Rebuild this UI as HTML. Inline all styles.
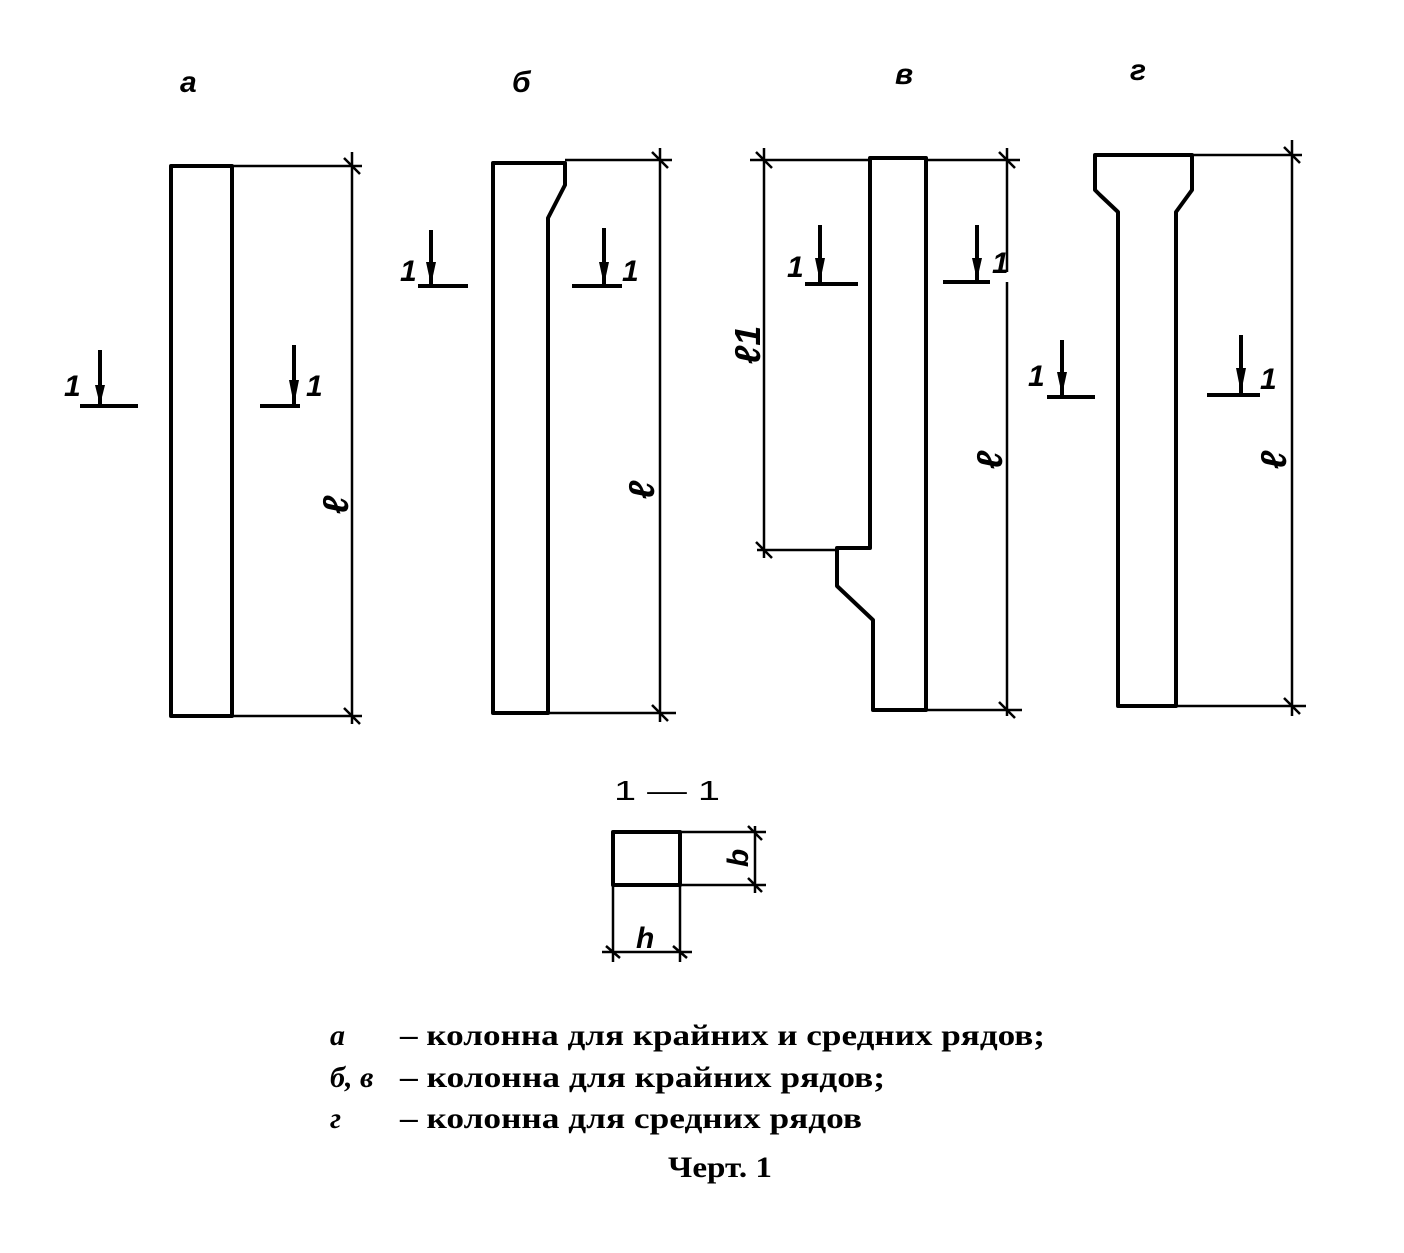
<!DOCTYPE html>
<html><head><meta charset="utf-8"><style>
body{margin:0;background:#fff}
svg{display:block}
.t{font-family:"Liberation Sans",sans-serif;font-style:italic;font-weight:bold}
.s{font-family:"Liberation Serif","Noto Serif CJK SC",serif;font-weight:bold;font-size:30px}
</style></head><body>
<svg width="1404" height="1253" viewBox="0 0 1404 1253" xmlns="http://www.w3.org/2000/svg">
<g fill="none" stroke="#000" stroke-width="4" stroke-linejoin="round">
<rect x="171" y="166" width="61" height="550"/>
<path d="M493 163H565V185L548 218V713H493Z"/>
<path d="M870 158H926V710H873V620L837 586V548H870Z"/>
<path d="M1095 155H1192V190L1176 212V706H1118V212L1100 195L1095 190Z"/>
<rect x="613" y="832" width="67" height="53"/>
</g>
<g fill="none" stroke="#000" stroke-width="2.5">
<path d="M232 166H362M232 716H362M352 152V724M344 158L360 174M344 708L360 724"/>
<path d="M565 160H672M548 713H676M660 148V722M652 152L668 168M652 705L668 721"/>
<path d="M750 160H870M926 160H1020M757 550H837M764 148V558M756 152L772 168M756 542L772 558M1007 148V272M1007 282V716M999 152L1015 168M926 710H1022M999 702L1015 718"/>
<path d="M1192 155H1302M1176 706H1306M1292 140V716M1284 147L1300 163M1284 698L1300 714"/>
<path d="M680 832H766M680 885H766M755 826V893M748 826L762 840M748 878L762 892M613 885V962M680 885V962M602 952H692M606 946L620 958M673 946L687 958"/>
</g>
<g stroke="#000" stroke-width="4">
<path d="M80 406H138M100 350V404M260 406H300M294 345V404M418 286H468M431 230V284M572 286H622M604 228V284M805 284H858M820 225V282M943 282H990M977 225V280M1047 397H1095M1062 340V395M1207 395H1260M1241 335V393"/>
</g>
<g fill="#000">
<path d="M95 385L105 385L100 405Z M289 380L299 380L294 405Z M426 262L436 262L431 285Z M599 262L609 262L604 285Z M815 258L825 258L820 282Z M972 258L982 258L977 280Z M1057 372L1067 372L1062 395Z M1236 368L1246 368L1241 393Z"/>
</g>
<g class="t" font-size="30">
<text x="180" y="92">а</text>
<text x="512" y="92">б</text>
<text x="895" y="84">в</text>
<text x="1130" y="80">г</text>
<text x="64" y="396">1</text><text x="306" y="396">1</text>
<text x="400" y="281">1</text><text x="622" y="281">1</text>
<text x="787" y="277">1</text><text x="992" y="273">1</text>
<text x="1028" y="386">1</text><text x="1260" y="389">1</text>
<text transform="translate(348,505) rotate(-90)" text-anchor="middle" font-size="36">ℓ</text>
<text transform="translate(654,490) rotate(-90)" text-anchor="middle" font-size="36">ℓ</text>
<text transform="translate(760,345) rotate(-90)" text-anchor="middle" font-size="36">ℓ1</text>
<text transform="translate(1002,460) rotate(-90)" text-anchor="middle" font-size="36">ℓ</text>
<text transform="translate(1286,460) rotate(-90)" text-anchor="middle" font-size="36">ℓ</text>
<text transform="translate(748,858) rotate(-90)" text-anchor="middle">b</text>
<text x="636" y="948">h</text>
</g>
<text x="614" y="800" font-family="Liberation Sans,sans-serif" font-size="28" textLength="106" lengthAdjust="spacingAndGlyphs">1 — 1</text>
<g class="s">
<text x="330" y="1045" font-style="italic">а</text>
<text x="400" y="1045" textLength="645" lengthAdjust="spacingAndGlyphs">– колонна для крайних и средних рядов;</text>
<text x="330" y="1087" font-style="italic">б, в</text>
<text x="400" y="1087" textLength="485" lengthAdjust="spacingAndGlyphs">– колонна для крайних рядов;</text>
<text x="330" y="1128" font-style="italic">г</text>
<text x="400" y="1128" textLength="462" lengthAdjust="spacingAndGlyphs">– колонна для средних рядов</text>
<text x="668" y="1177" textLength="104" lengthAdjust="spacingAndGlyphs">Черт. 1</text>
</g>
</svg>
</body></html>
